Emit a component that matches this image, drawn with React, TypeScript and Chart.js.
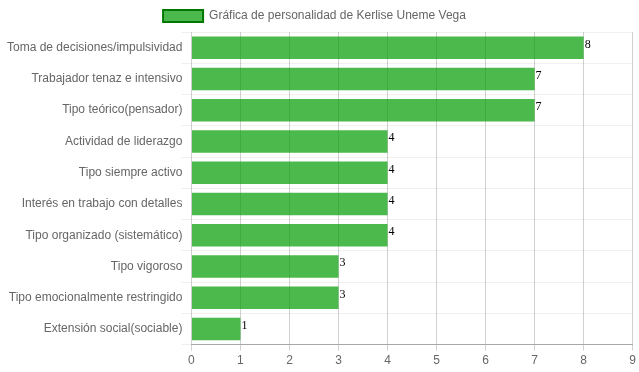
import React, { useEffect, useRef } from 'react';
import { Chart, registerables } from 'chart.js';

Chart.register(...registerables);

const categories = [
  'Toma de decisiones/impulsividad',
  'Trabajador tenaz e intensivo',
  'Tipo teórico(pensador)',
  'Actividad de liderazgo',
  'Tipo siempre activo',
  'Interés en trabajo con detalles',
  'Tipo organizado (sistemático)',
  'Tipo vigoroso',
  'Tipo emocionalmente restringido',
  'Extensión social(sociable)',
];
const values = [8, 7, 7, 4, 4, 4, 4, 3, 3, 1];
const seriesLabel = 'Gráfica de personalidad de Kerlise Uneme Vega';
const xMin = 0;
const xMax = 9;

const FONT = "'Liberation Sans', Arial, sans-serif";

const valueLabels = {
  id: 'valueLabels',
  afterDatasetsDraw(chart: any) {
    const ctx = chart.ctx;
    ctx.save();
    ctx.font = '12px serif';
    ctx.fillStyle = '#000';
    ctx.textAlign = 'left';
    ctx.textBaseline = 'top';
    chart.data.datasets.forEach((ds: any, i: number) => {
      const meta = chart.getDatasetMeta(i);
      meta.data.forEach((el: any, j: number) => {
        const p = el.getProps(['x', 'y', 'height'], true);
        ctx.fillText(String(ds.data[j]), p.x + 1, p.y - p.height / 2 + 2);
      });
    });
    ctx.restore();
  },
};

const legendShift = {
  id: 'legendShift',
  afterLayout(chart: any) {
    const lg = chart.legend;
    if (lg) {
      lg.left -= 5;
      lg.right -= 5;
    }
  },
};

export default function App() {
  const ref = useRef<HTMLCanvasElement>(null);
  useEffect(() => {
    document.body.style.margin = '0';
    const canvas = ref.current!;
    const chart = new Chart(canvas, {
      type: 'bar',
      data: {
        labels: categories,
        datasets: [
          {
            label: seriesLabel,
            data: values,
            backgroundColor: 'rgba(0, 155, 0, 0.7)',
            borderWidth: 0,
          },
        ],
      },
      options: {
        indexAxis: 'y',
        responsive: false,
        animation: false,
        layout: { padding: { bottom: 1 } },
        plugins: {
          legend: {
            labels: {
              color: '#666',
              font: { family: FONT, size: 12 },
              generateLabels(chart: any) {
                const items = Chart.defaults.plugins.legend.labels.generateLabels(chart);
                return items.map((it: any) => ({
                  ...it,
                  lineWidth: 2,
                  strokeStyle: 'rgb(0, 120, 0)',
                }));
              },
            },
          },
          tooltip: { enabled: false },
        },
        scales: {
          x: {
            min: xMin,
            max: xMax,
            ticks: {
              stepSize: 1,
              color: '#666',
              font: { family: FONT, size: 12 },
              padding: 3,
            },
            grid: { color: 'rgba(0,0,0,0.18)', tickLength: 6 },
            border: { color: 'rgba(0,0,0,0.3)' },
          },
          y: {
            afterFit(scale: any) {
              scale.width += 8;
            },
            ticks: {
              color: '#666',
              font: { family: FONT, size: 12 },
              padding: -1,
              autoSkip: false,
            },
            grid: { color: 'rgba(0,0,0,0.06)', tickLength: 10, offset: true },
            border: { display: false },
          },
        },
      },
      plugins: [valueLabels, legendShift],
    });
    return () => chart.destroy();
  }, []);
  return (
    <div style={{ width: 639, height: 372 }}>
      <canvas ref={ref} width={639} height={372} />
    </div>
  );
}
